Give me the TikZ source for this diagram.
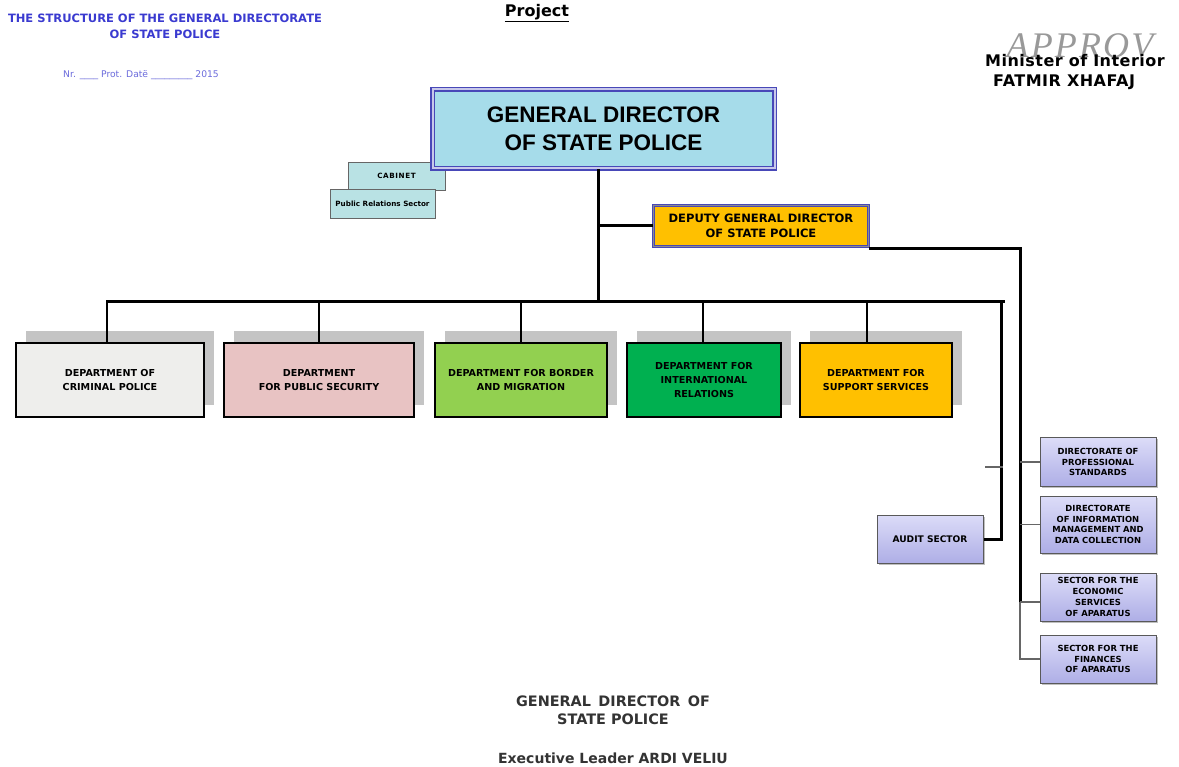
\documentclass[tikz,border=0pt]{standalone}
\usepackage{fontspec}
\setmainfont{Liberation Sans}
\newfontfamily\dv{DejaVu Sans}
\newfontfamily\apprfont[LetterSpace=6]{Liberation Serif}
\newfontfamily\minifont[LetterSpace=3]{DejaVu Sans}
\newfontfamily\cabfont[LetterSpace=8]{DejaVu Sans}
\usetikzlibrary{shadows,calc}
\definecolor{titleblue}{HTML}{3A3AD0}
\definecolor{dirfill}{HTML}{A6DCEA}
\definecolor{dirline}{HTML}{4848B8}
\definecolor{cabfill}{HTML}{B9E2E4}
\definecolor{critfill}{HTML}{EEEEEC}
\definecolor{pubfill}{HTML}{E8C3C3}
\definecolor{bordfill}{HTML}{92D050}
\definecolor{intfill}{HTML}{00B050}
\definecolor{suppfill}{HTML}{FFC000}
\definecolor{lavtop}{HTML}{DCDCF8}
\definecolor{lavbot}{HTML}{AEAEE6}
\definecolor{shadowgray}{HTML}{C4C4C4}
\tikzset{
  dept/.style={draw=black, line width=2.6pt, align=center, inner sep=2pt,
    font=\dv\bfseries\fontsize{9.6}{14}\selectfont,
    general shadow={fill=shadowgray, shadow xshift=10pt, shadow yshift=12pt}},
  lav/.style={draw=black!65, line width=1pt, align=center, inner sep=0pt,
    top color=lavtop, bottom color=lavbot,
    font=\dv\bfseries\fontsize{8.4}{10.8}\selectfont,
    general shadow={fill=black!25, shadow xshift=1.5pt, shadow yshift=-1.5pt}},
  cab/.style={draw=black!60, line width=0.9pt, fill=cabfill, align=center,
    font=\dv\bfseries\fontsize{7.2}{8}\selectfont, inner sep=1pt},
  thickline/.style={line width=3pt, black},
  midline/.style={line width=2.4pt, black},
  thinline/.style={line width=1.2pt, black!60},
  lbl/.style={align=center, inner sep=0pt},
}
\begin{document}
\begin{tikzpicture}[x=1pt,y=-1pt]
\useasboundingbox (0,0) rectangle (1179,767);
\fill[white] (0,0) rectangle (1179,767);

% header texts
\node[lbl, text=titleblue, font=\dv\bfseries\fontsize{11.5}{16}\selectfont] (title) at (165,26)
  {THE STRUCTURE OF THE GENERAL DIRECTORATE\\OF STATE POLICE};
\node[lbl, text=titleblue!75, font=\dv\fontsize{9.2}{10}\selectfont] (nr) at (141,75)
  {Nr. \_\_\_\_ Prot. Datë \_\_\_\_\_\_\_\_\_ 2015};
\node[lbl, font=\dv\bfseries\fontsize{16}{18}\selectfont] (proj) at (537,13) {\underline{Project}};
\node[lbl, text=black!40, font=\apprfont\itshape\fontsize{36}{36}\selectfont] (appr) at (1080,46) {APPROV};
\node[lbl, align=left, font=\minifont\bfseries\fontsize{16}{20}\selectfont] (mini) at (1075,72)
  {Minister of Interior\\\hspace*{8pt}FATMIR XHAFAJ};

% cabinet boxes (behind director)
\node[cab, minimum width=97pt, minimum height=28pt, font=\cabfont\bfseries\fontsize{7.2}{8}\selectfont] (cab) at (396.5,176) {CABINET};
\node[cab, minimum width=105pt, minimum height=29pt] (pr) at (382.5,203.5) {Public Relations Sector};

% general director
\node[draw=dirline, line width=1.3pt, double=white!70!dirline, double distance=2pt,
  fill=dirfill, minimum width=342pt, minimum height=79pt, align=center,
  font=\bfseries\fontsize{22.5}{28}\selectfont] (dir) at (603.5,129)
  {GENERAL DIRECTOR\\OF STATE POLICE};

% deputy
\node[draw=dirline, line width=1pt, double=black!45, double distance=1.5pt,
  fill=suppfill, minimum width=215pt, minimum height=41pt, align=center,
  font=\dv\bfseries\fontsize{11.5}{15}\selectfont] (dep) at (761,226)
  {DEPUTY GENERAL DIRECTOR\\OF STATE POLICE};

% departments
\node[dept, fill=critfill, minimum width=188pt, minimum height=74pt] (crim) at (110,380)
  {DEPARTMENT OF\\CRIMINAL POLICE};
\node[dept, fill=pubfill, minimum width=190pt, minimum height=74pt] (pub) at (319,380)
  {DEPARTMENT\\FOR PUBLIC SECURITY};
\node[dept, fill=bordfill, minimum width=172pt, minimum height=74pt] (bord) at (521,380)
  {DEPARTMENT FOR BORDER\\AND MIGRATION};
\node[dept, fill=intfill, minimum width=154pt, minimum height=74pt] (intl) at (704,380)
  {DEPARTMENT FOR\\INTERNATIONAL\\RELATIONS};
\node[dept, fill=suppfill, minimum width=152pt, minimum height=74pt] (supp) at (876,380)
  {DEPARTMENT FOR\\SUPPORT SERVICES};

% lavender boxes
\node[lav, minimum width=106pt, minimum height=48pt, font=\dv\bfseries\fontsize{9.1}{10}\selectfont] (aud) at (930,539) {AUDIT SECTOR};
\node[lav, minimum width=116pt, minimum height=48pt] (r1) at (1098,462)
  {DIRECTORATE OF\\PROFESSIONAL\\STANDARDS};
\node[lav, minimum width=116pt, minimum height=57pt] (r2) at (1098,524.5)
  {DIRECTORATE\\OF INFORMATION\\MANAGEMENT AND\\DATA COLLECTION};
\node[lav, minimum width=116pt, minimum height=48pt] (r3) at (1098,597)
  {SECTOR FOR THE\\ECONOMIC\\SERVICES\\OF APARATUS};
\node[lav, minimum width=116pt, minimum height=48pt] (r4) at (1098,659)
  {SECTOR FOR THE\\FINANCES\\OF APARATUS};

% coordinates
\coordinate (busL) at (107,302);
\coordinate (busR) at (1003,302);
\coordinate (tick) at (985,467);
\coordinate (rv) at (1020,246);

% connectors
\draw[thickline] ([xshift=-5pt]dir.south) -- ([xshift=-5pt]dir.south |- busL);
\draw[thickline] ([xshift=-5pt]dir.south |- dep.west) -- (dep.west);
\draw[thickline, line cap=rect] (busL) -- (busR);
\draw[midline] ([xshift=-3pt]crim.north) -- ([xshift=-3pt]crim.north |- busL);
\draw[midline] (pub.north) -- (pub.north |- busL);
\draw[midline] (bord.north) -- (bord.north |- busL);
\draw[midline] ([xshift=-1pt]intl.north) -- ([xshift=-1pt]intl.north |- busL);
\draw[midline] ([xshift=-9pt]supp.north) -- ([xshift=-9pt]supp.north |- busL);
\draw[thickline] ([xshift=-2pt]busR) |- (aud.east);
\draw[thinline] (tick) -- (tick -| busR);
\draw[thickline] ([yshift=-2pt]dep.south east) -| ([yshift=-5pt]rv |- r3.west);
\draw[thinline] ([yshift=-5pt]rv |- r3.west) -- (rv |- r4.west) -- (r4.west);
\draw[thinline] (rv |- r1.west) -- (r1.west);
\draw[thinline] (rv |- r2.west) -- (r2.west);
\draw[thinline] ([yshift=-5pt]rv |- r3.west) -- ([yshift=-5pt]r3.west);

% footer
\node[lbl, text=black!80, font=\dv\bfseries\fontsize{14.4}{18}\selectfont] (foot) at (613,710)
  {GENERAL\, DIRECTOR\, OF\\STATE POLICE};
\node[lbl, text=black!80, font=\dv\bfseries\fontsize{14}{15}\selectfont] (exec) at (613,758)
  {Executive Leader ARDI VELIU};
\end{tikzpicture}
\end{document}
